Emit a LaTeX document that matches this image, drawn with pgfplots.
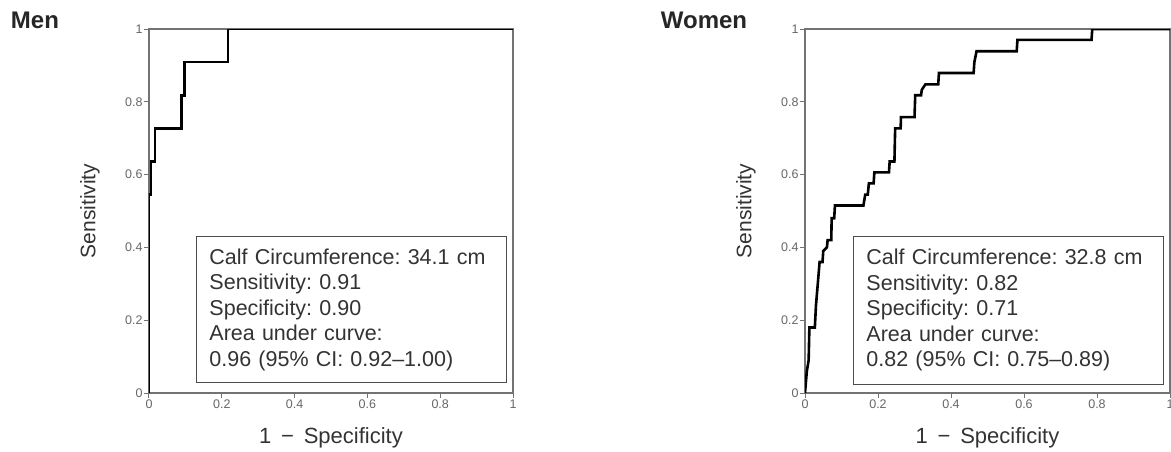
\documentclass[border=0pt]{standalone}
\usepackage{pgfplots}
\pgfplotsset{compat=1.18}
\usepackage{fontspec}
\setmainfont{Liberation Sans}
\frenchspacing
\definecolor{framegray}{gray}{0.45}
\definecolor{ticktext}{gray}{0.4}
\pgfplotsset{
  rocaxis/.style={
    anchor=south west, scale only axis,
    height=364pt,
    xmin=0, xmax=1, ymin=0, ymax=1,
    xtick={0,0.2,0.4,0.6,0.8,1}, ytick={0,0.2,0.4,0.6,0.8,1},
    xtick pos=bottom, ytick pos=left,
    /pgf/number format/assume math mode=true,
    axis line style={framegray, line width=1.6pt},
    tick style={framegray, line width=1pt},
    tick align=outside, major tick length=5pt,
    tick label style={font=\fontsize{12.5}{13}\selectfont, text=ticktext},
    xticklabel style={yshift=2pt},
    yticklabel style={xshift=2pt},
    xlabel style={at={(axis description cs:0.5,-0.1236)}, anchor=center, font=\fontsize{22}{24}\selectfont, text=black!80},
    ylabel style={at={(axis description cs:-0.162,0.5)}, anchor=center, font=\fontsize{21}{24}\selectfont, text=black!80},
    title style={at={(axis description cs:0,1)}, anchor=center, yshift=3pt, font=\fontsize{24}{26}\selectfont\bfseries, text=black!85},
    xlabel={1 \,−\, Specificity}, ylabel={Sensitivity},
  },
  rocline/.style={black, line width=2.6pt, no marks, line join=miter},
}
\tikzset{
  infobox/.style={draw=black!70, line width=1.4pt, fill=white, anchor=south east,
    text width=284pt, align=left, inner xsep=13pt, inner ysep=10pt,
    font=\fontsize{21.5}{25.5}\selectfont, text=black!80},
}
\begin{document}
\begin{tikzpicture}
\path[use as bounding box] (0,0) rectangle (1171pt,451pt);
\begin{axis}[rocaxis, at={(149pt,58pt)}, width=364pt,
  title={Men}, title style={xshift=-114pt}]
\addplot[rocline] coordinates {
(0,0) (0,0.545) (0.006,0.545) (0.006,0.636) (0.016,0.636) (0.016,0.727)
(0.089,0.727) (0.089,0.818) (0.098,0.818) (0.098,0.909) (0.217,0.909)
(0.217,1) (1,1)};
\node[infobox, minimum height=146pt] at (rel axis cs:0.984,0.027)
{Calf Circumference: 34.1 cm\\Sensitivity: 0.91\\Specificity: 0.90\\Area under curve:\\0.96 (95\% CI: 0.92–1.00)};
\end{axis}
\begin{axis}[rocaxis, at={(805pt,58pt)}, width=365pt,
  title={Women}, title style={xshift=-101pt}]
\addplot[rocline] coordinates {
(0,0) (0.005,0.06) (0.010,0.09) (0.012,0.18) (0.027,0.18) (0.030,0.24)
(0.035,0.30) (0.040,0.36) (0.048,0.36) (0.050,0.39) (0.060,0.40)
(0.062,0.42) (0.072,0.42) (0.073,0.48) (0.080,0.48) (0.082,0.515)
(0.160,0.515) (0.165,0.545) (0.172,0.545) (0.175,0.576) (0.188,0.576)
(0.190,0.606) (0.230,0.606) (0.232,0.636) (0.245,0.636) (0.247,0.727)
(0.262,0.727) (0.263,0.758) (0.300,0.758) (0.302,0.818) (0.318,0.818)
(0.320,0.833) (0.330,0.848) (0.365,0.848) (0.367,0.879) (0.462,0.879)
(0.464,0.909) (0.470,0.939) (0.580,0.939) (0.582,0.970) (0.785,0.970)
(0.787,1) (1,1)};
\node[infobox, minimum height=148pt] at (rel axis cs:0.984,0.022)
{Calf Circumference: 32.8 cm\\Sensitivity: 0.82\\Specificity: 0.71\\Area under curve:\\0.82 (95\% CI: 0.75–0.89)};
\end{axis}
\end{tikzpicture}
\end{document}
